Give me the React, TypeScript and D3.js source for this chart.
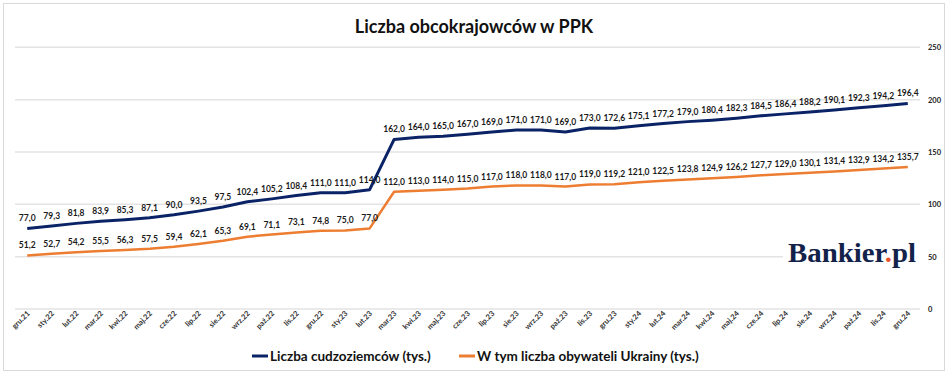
import React from "react";
import * as d3 from "d3";

const months = [
  "gru.21","sty.22","lut.22","mar.22","kwi.22","maj.22","cze.22","lip.22","sie.22","wrz.22","paź.22","lis.22",
  "gru.22","sty.23","lut.23","mar.23","kwi.23","maj.23","cze.23","lip.23","sie.23","wrz.23","paź.23","lis.23",
  "gru.23","sty.24","lut.24","mar.24","kwi.24","maj.24","cze.24","lip.24","sie.24","wrz.24","paź.24","lis.24","gru.24",
];
const foreigners = [
  77.0, 79.3, 81.8, 83.9, 85.3, 87.1, 90.0, 93.5, 97.5, 102.4, 105.2, 108.4,
  111.0, 111.0, 114.0, 162.0, 164.0, 165.0, 167.0, 169.0, 171.0, 171.0, 169.0, 173.0,
  172.6, 175.1, 177.2, 179.0, 180.4, 182.3, 184.5, 186.4, 188.2, 190.1, 192.3, 194.2, 196.4,
];
const ukrainians = [
  51.2, 52.7, 54.2, 55.5, 56.3, 57.5, 59.4, 62.1, 65.3, 69.1, 71.1, 73.1,
  74.8, 75.0, 77.0, 112.0, 113.0, 114.0, 115.0, 117.0, 118.0, 118.0, 117.0, 119.0,
  119.2, 121.0, 122.5, 123.8, 124.9, 126.2, 127.7, 129.0, 130.1, 131.4, 132.9, 134.2, 135.7,
];
const yTicks = [0, 50, 100, 150, 200, 250];
const seriesNames = ["Liczba cudzoziemców (tys.)", "W tym liczba obywateli Ukrainy (tys.)"];
const title = "Liczba obcokrajowców w PPK";

const NAVY = "#0a2366";
const ORANGE = "#ed7d31";
const FONT = "Lato, 'Open Sans', sans-serif";

export default function App() {
  const W = 948, H = 377;
  const x = d3.scaleBand<string>().domain(months).range([15, 920]);
  const y = d3.scaleLinear().domain([0, 250]).range([309, 47.3]);
  const cx = (m: string) => (x(m) as number) + x.bandwidth() / 2;
  const line = d3.line<number>().x((_, i) => cx(months[i])).y((v) => y(v));
  const fmt = (v: number) => v.toFixed(1).replace(".", ",");
  const series = [
    { values: foreigners, color: NAVY, width: 3 },
    { values: ukrainians, color: ORANGE, width: 2.5 },
  ];
  return (
    <svg width={W} height={H} style={{ position: "absolute", left: 0, top: 0, background: "#fff" }} fontFamily={FONT}>
      <rect x={3.5} y={3.5} width={941} height={367} fill="#fff" stroke="#d9d9d9" strokeWidth={1} />
      <text x={474} y={33} textAnchor="middle" fontSize={18} fontWeight={700} fill="#111">{title}</text>
      {yTicks.map((t) => (
        <g key={t}>
          <line x1={15} x2={920} y1={y(t)} y2={y(t)} stroke="#e3e3e3" strokeWidth={1.5} />
          <text x={928} y={y(t) + 3} fontSize={7.5} fontWeight={700} fill="#222">{t}</text>
        </g>
      ))}
      <rect x={783} y={236} width={137} height={32} fill="#fff" />
      <text x={788} y={262} fontFamily="'Liberation Serif', 'DejaVu Serif', serif" fontWeight={700} fontSize={28} fill="#12224a" textLength={128} lengthAdjust="spacingAndGlyphs">
        Bankier<tspan fill="#e8502a">.</tspan>pl
      </text>
      {series.map((s, si) => (
        <path key={si} d={line(s.values) || ""} fill="none" stroke={s.color} strokeWidth={s.width} strokeLinejoin="round" />
      ))}
      {series.map((s, si) =>
        s.values.map((v, i) => (
          <text key={si + "-" + i} x={cx(months[i])} y={y(v) - 7} textAnchor="middle" fontSize={8.5} fontWeight={700} fill="#1a1a1a">
            {fmt(v)}
          </text>
        ))
      )}
      {months.map((m) => (
        <text key={m} transform={`translate(${cx(m) + 3},${314}) rotate(-45)`} textAnchor="end" fontSize={7.5} fontWeight={700} fill="#333">
          {m}
        </text>
      ))}
      <g>
        <line x1={252} x2={268} y1={356} y2={356} stroke={NAVY} strokeWidth={3} />
        <text x={270} y={361} fontSize={13.5} fontWeight={700} fill="#111">{seriesNames[0]}</text>
        <line x1={459} x2={475} y1={356} y2={356} stroke={ORANGE} strokeWidth={3} />
        <text x={477} y={361} fontSize={13.5} fontWeight={700} fill="#111">{seriesNames[1]}</text>
      </g>
    </svg>
  );
}
